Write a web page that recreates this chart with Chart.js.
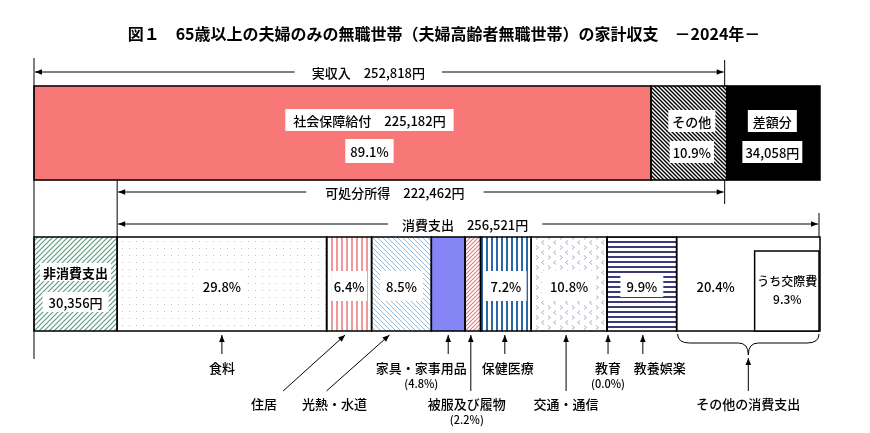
<!DOCTYPE html>
<html lang="ja">
<head>
<meta charset="utf-8">
<script src="https://cdn.jsdelivr.net/npm/chart.js@4.4.1/dist/chart.umd.min.js"></script>
<style>
  html, body { margin: 0; padding: 0; background: #fff; }
  #wrap { position: relative; width: 870px; height: 433px; }
</style>
</head>
<body>
<div id="wrap"><canvas id="c"></canvas></div>
<script>
const TITLE = "図１　65歳以上の夫婦のみの無職世帯（夫婦高齢者無職世帯）の家計収支　－2024年－";

// 上段：収入（円）
const incomeLabels = ["社会保障給付", "その他", "差額分"];
const incomeValues = [225182, 27636, 34058];
const incomePct = [89.1, 10.9];
const realIncome = 252818;
const disposableIncome = 222462;

// 下段：支出
const nonConsumption = 30356;
const consumptionTotal = 256521;
const consumptionLabels = ["食料", "住居", "光熱・水道", "家具・家事用品", "被服及び履物", "保健医療", "交通・通信", "教育", "教養娯楽", "その他の消費支出"];
const consumptionPct = [29.8, 6.4, 8.5, 4.8, 2.2, 7.2, 10.8, 0.0, 9.9, 20.4];
const kosaihiPct = 9.3;

const FONT = "'Noto Sans CJK JP', 'Noto Sans', sans-serif";
const yen = (v) => v.toLocaleString("ja-JP") + "円";
const pct = (v) => v.toFixed(1) + "%";

// ---- fill patterns ----
function pattern(w, h, bg, draw) {
  const c = document.createElement("canvas");
  c.width = w; c.height = h;
  const g = c.getContext("2d");
  g.fillStyle = bg; g.fillRect(0, 0, w, h);
  draw(g, w, h);
  return g.createPattern(c, "repeat");
}
function diag(color, s, lw, up) {
  return pattern(s, s, "#fff", (g, w, h) => {
    g.strokeStyle = color; g.lineWidth = lw;
    g.beginPath();
    if (up) {
      g.moveTo(-1, h + 1); g.lineTo(w + 1, -1);
      g.moveTo(-1, 1); g.lineTo(1, -1);
      g.moveTo(w - 1, h + 1); g.lineTo(w + 1, h - 1);
    } else {
      g.moveTo(-1, -1); g.lineTo(w + 1, h + 1);
      g.moveTo(w - 1, -1); g.lineTo(w + 1, 1);
      g.moveTo(-1, h - 1); g.lineTo(1, h + 1);
    }
    g.stroke();
  });
}
const vlines = (color, s, lw) => pattern(s, 1, "#fff", (g) => { g.fillStyle = color; g.fillRect(1, 0, lw, 1); });
const hlines = (color, s, lw) => pattern(1, s, "#fff", (g) => { g.fillStyle = color; g.fillRect(0, 1, 1, lw); });
const dots = pattern(7, 7, "#fff", (g) => { g.fillStyle = "#c4c4c4"; g.fillRect(3, 3, 1, 1); });
const chevrons = pattern(12, 10, "#fff", (g) => {
  g.strokeStyle = "#a9a9d6"; g.lineWidth = 1;
  g.beginPath();
  g.moveTo(4, 0.5); g.lineTo(1.5, 2.5); g.lineTo(4, 4.5);
  g.moveTo(8, 5.5); g.lineTo(10.5, 7.5); g.lineTo(8, 9.5);
  g.stroke();
});

const incomeFills = ["#f87878", diag("#000", 4, 1.4, false), "#000"];
const nonConsFill = diag("#5f9c82", 5, 1.2, true);
const consFills = [
  dots,
  vlines("#ef9a9a", 5, 2),
  diag("#94bce0", 5, 1, false),
  "#8585f5",
  diag("#e57a7a", 4, 1.1, true),
  vlines("#2a68a6", 5, 2),
  chevrons,
  "#fff",
  hlines("#3b3b7a", 5, 2),
  "#fff"
];

const datasets = [];
incomeLabels.forEach((l, i) => datasets.push({ label: l, data: [incomeValues[i], null], backgroundColor: incomeFills[i] }));
datasets.push({ label: "非消費支出", data: [null, nonConsumption], backgroundColor: nonConsFill });
consumptionLabels.forEach((l, i) => datasets.push({
  label: l, data: [null, consumptionPct[i] / 100 * consumptionTotal], backgroundColor: consFills[i]
}));
const fullWidth = incomeValues.reduce((s, v) => s + v, 0);

// ---- drawing helpers ----
function label(ctx, text, x, y, o = {}) {
  ctx.font = (o.weight || "500") + " " + (o.size || 13) + "px " + FONT;
  const w = ctx.measureText(text).width;
  if (o.box) {
    const px = o.padX ?? 5, hh = o.halfH ?? 11;
    ctx.fillStyle = "#fff";
    ctx.fillRect(x - w / 2 - px, y - hh, w + 2 * px, 2 * hh);
  }
  ctx.fillStyle = "#000"; ctx.textAlign = "center"; ctx.textBaseline = "middle";
  ctx.fillText(text, x, y + 1);
  return w;
}
function head(ctx, x, y, ang) {
  const L = 7, W = 2.8;
  const c = Math.cos(ang), s = Math.sin(ang);
  ctx.beginPath();
  ctx.moveTo(x, y);
  ctx.lineTo(x - L * c + W * s, y - L * s - W * c);
  ctx.lineTo(x - L * c - W * s, y - L * s + W * c);
  ctx.closePath(); ctx.fill();
}
function arrow(ctx, x1, y1, x2, y2) {
  ctx.beginPath(); ctx.moveTo(x1, y1); ctx.lineTo(x2, y2); ctx.stroke();
  head(ctx, x2, y2, Math.atan2(y2 - y1, x2 - x1));
}
function line(ctx, x1, y1, x2, y2) {
  ctx.beginPath(); ctx.moveTo(x1, y1); ctx.lineTo(x2, y2); ctx.stroke();
}
function span(ctx, xL, xR, y, text, cx, gap) {
  const w = label(ctx, text, cx, y);
  arrow(ctx, cx - w / 2 - gap, y, xL + 1, y);
  arrow(ctx, cx + w / 2 + gap, y, xR - 1, y);
}

const decor = {
  id: "decor",
  afterDatasetsDraw(chart) {
    const ctx = chart.ctx;
    const X = (v) => chart.scales.x.getPixelForValue(v);
    const segs = chart.data.datasets.map((d, i) => {
      const el = chart.getDatasetMeta(i).data[i < 3 ? 0 : 1];
      const p = el.getProps(["x", "base", "y", "height"], true);
      return { l: Math.min(p.x, p.base), r: Math.max(p.x, p.base), t: p.y - p.height / 2, b: p.y + p.height / 2 };
    });
    ctx.save();
    // outlines
    ctx.strokeStyle = "#000"; ctx.lineWidth = 1.5;
    segs.forEach((s) => ctx.strokeRect(s.l, s.t, s.r - s.l, s.b - s.t));

    const mid = (s) => (s.l + s.r) / 2;
    const T = segs[0].t, B = segs[0].b;
    // top bar labels
    label(ctx, incomeLabels[0] + "　" + yen(incomeValues[0]), mid(segs[0]) + 27, T + 34, { box: true, padX: 8 });
    label(ctx, pct(incomePct[0]), mid(segs[0]) + 27, T + 65, { box: true, padX: 5, halfH: 12 });
    label(ctx, incomeLabels[1], mid(segs[1]) + 3, T + 35, { box: true, padX: 4 });
    label(ctx, pct(incomePct[1]), mid(segs[1]) + 3, T + 66, { box: true, padX: 3 });
    label(ctx, incomeLabels[2], mid(segs[2]) - 1, T + 35, { box: true, padX: 5 });
    label(ctx, yen(incomeValues[2]), mid(segs[2]) - 1, T + 66, { box: true, padX: 3 });

    // bottom bar labels
    const nc = segs[3], BT = nc.t, BB = nc.b, BY = (BT + BB) / 2 + 2;
    label(ctx, "非消費支出", mid(nc), BT + 35, { box: true, padX: 3, halfH: 9, weight: "bold" });
    label(ctx, yen(nonConsumption), mid(nc), BT + 65, { box: true, padX: 6, halfH: 10 });
    const cs = segs.slice(4);
    [0, 1, 2, 5, 6, 8].forEach((i) => {
      const s = cs[i];
      const w = s.r - s.l;
      label(ctx, pct(consumptionPct[i]), mid(s), BY, { box: true, padX: i === 6 ? 8 : Math.min(6, w / 2 - 20), halfH: i === 8 ? 11 : 15 });
    });
    const other = cs[9];
    const kx = X(fullWidth - kosaihiPct / 100 * consumptionTotal);
    ctx.fillStyle = "#fff"; ctx.strokeStyle = "#000"; ctx.lineWidth = 1.5;
    ctx.fillRect(kx, BT + 14, other.r - kx - 1, BB - BT - 14);
    ctx.strokeRect(kx, BT + 14, other.r - kx - 1, BB - BT - 14);
    label(ctx, pct(consumptionPct[9]), (other.l + kx) / 2, BY);
    label(ctx, "うち交際費", (kx + other.r) / 2, BT + 43, { size: 12 });
    label(ctx, pct(kosaihiPct), (kx + other.r) / 2, BT + 61, { size: 12 });

    // guide lines and span arrows
    ctx.strokeStyle = "#000"; ctx.fillStyle = "#000"; ctx.lineWidth = 1;
    const x0 = X(0), xInc = X(realIncome) - 2, xNc = nc.r, xEnd = X(fullWidth) - 1;
    line(ctx, x0, T - 28, x0, BB + 28);
    line(ctx, xInc, T - 26, xInc, T);
    line(ctx, xInc, B, xInc, B + 24);
    line(ctx, xNc, B, xNc, BT);
    line(ctx, xEnd, BT - 24, xEnd, BT);
    span(ctx, x0, xInc, T - 14, "実収入　" + yen(realIncome), (x0 + xInc) / 2 - 11, 17);
    span(ctx, xNc, xInc, B + 12, "可処分所得　" + yen(disposableIncome), (xNc + xInc) / 2 - 26, 19);
    span(ctx, xNc, xEnd, BT - 13, "消費支出　" + yen(consumptionTotal), (xNc + xEnd) / 2 - 3, 14);

    // notes under the bottom bar
    const tipY = BB + 4, r1 = BB + 23, r2 = BB + 60;
    const lab1 = BB + 36, lab2 = BB + 72;
    // [arrow dx, row, label dx, sub-label?]
    const notes = [
      [0, 1, 0, false], null, null, [0, 1, -27, true], [-2, 2, -4, true],
      [-1, 1, 3, false], [-3, 2, 0, false], [1, 1, 0, true], [1, 1, 17, false]
    ];
    notes.forEach((n, i) => {
      if (!n) return;
      const ax = mid(cs[i]) + n[0];
      arrow(ctx, ax, n[1] === 1 ? r1 : r2, ax, tipY);
      const ly = n[1] === 1 ? lab1 : lab2;
      label(ctx, consumptionLabels[i], ax + n[2], ly);
      if (n[3]) label(ctx, "(" + pct(consumptionPct[i]) + ")", ax + n[2], ly + 16, { size: 11 });
    });
    // diagonal arrows
    [[1, -4, -62, -19], [2, -12, -63, 8]].forEach(([i, dx, tx, lx]) => {
      const ax = mid(cs[i]) + dx;
      arrow(ctx, ax + tx, r2, ax, tipY);
      label(ctx, consumptionLabels[i], ax + tx + lx, lab2);
    });
    // brace for その他の消費支出
    const bl = other.l + 1, br = other.r - 1, bm = (bl + br) / 2, by = BB + 12, bt = BB + 24;
    ctx.beginPath();
    ctx.moveTo(bl, BB + 3);
    ctx.quadraticCurveTo(bl, by, bl + 12, by);
    ctx.lineTo(bm - 10, by);
    ctx.quadraticCurveTo(bm, by, bm, bt);
    ctx.quadraticCurveTo(bm, by, bm + 10, by);
    ctx.lineTo(br - 12, by);
    ctx.quadraticCurveTo(br, by, br, BB + 3);
    ctx.stroke();
    arrow(ctx, bm, r2, bm, bt + 3);
    label(ctx, consumptionLabels[9], bm, lab2);

    // title
    label(ctx, TITLE, 444, 33, { size: 16, weight: "bold" });
    ctx.restore();
  }
};

new Chart(document.getElementById("c"), {
  type: "bar",
  data: { labels: ["収入", "支出"], datasets },
  options: {
    indexAxis: "y",
    responsive: true,
    maintainAspectRatio: false,
    animation: false,
    events: [],
    layout: { padding: { left: 34, right: 50, top: 57.5, bottom: 73.5 } },
    datasets: { bar: { barThickness: 94, borderWidth: 0 } },
    scales: {
      x: { stacked: true, display: false, min: 0, max: fullWidth },
      y: { stacked: true, display: false }
    },
    plugins: { legend: { display: false }, tooltip: { enabled: false } }
  },
  plugins: [decor]
});
</script>
</body>
</html>
